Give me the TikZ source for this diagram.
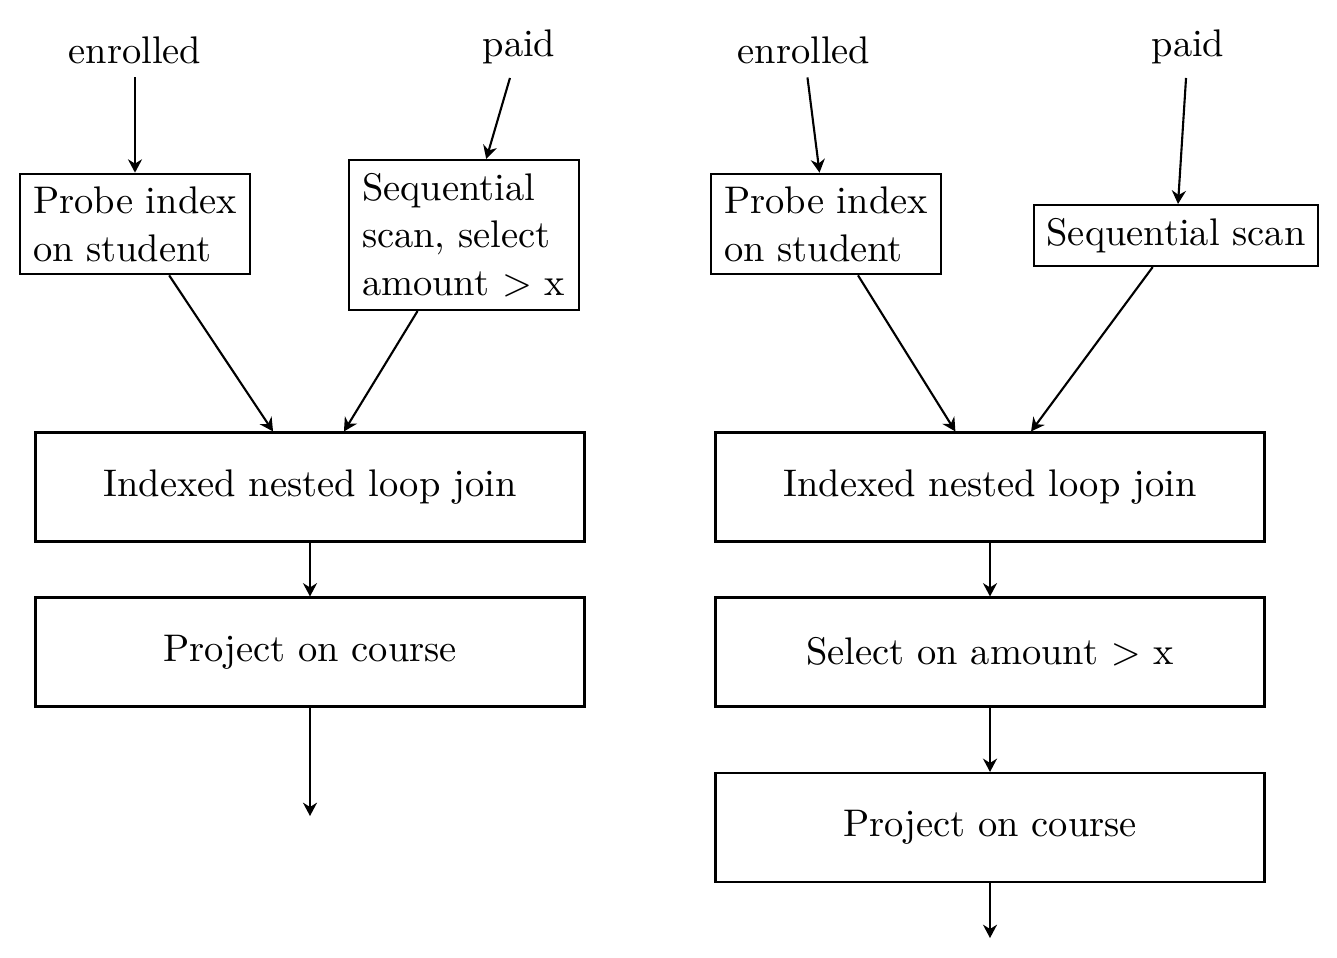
\documentclass[11pt,tikz,border=0pt]{standalone}
\usetikzlibrary{arrows.meta}

\begin{document}
\begin{tikzpicture}[semithick, >={Stealth[length=3.8pt,width=4pt]}, box/.style={draw, align=left, text width=2.04cm}, wide/.style={draw, minimum width=5.49cm, minimum height=1.09cm}]
            \useasboundingbox (0,0) rectangle (13.37,-9.57);

            % left plan
            \node (E1) at (1.35,-0.50) {enrolled};
            \node (P1) at (5.19,-0.47) {paid};
            \node[box, minimum height=0.98cm] (A1) at (1.35,-2.24) {Probe index\\ on student};
            \node[box, minimum height=1.48cm] (B1) at (4.64,-2.35) {Sequential\\ scan, select\\ amount $>$ x};
            \node[wide] (J1) at (3.10,-4.87) {Indexed nested loop join};
            \node[wide] (R1) at (3.10,-6.52) {Project on course};
            \coordinate (O1) at (3.10,-8.16);

            \draw[->] (E1) -- (A1);
            \draw[->] (P1) -- (B1);
            \draw[->] (A1) -- (J1);
            \draw[->] (B1) -- (J1);
            \draw[->] (J1) -- (R1);
            \draw[->] (R1) -- (O1);

            % right plan
            \node (E2) at (8.04,-0.50) {enrolled};
            \node (P2) at (11.88,-0.47) {paid};
            \node[box, minimum height=0.98cm] (A2) at (8.26,-2.24) {Probe index\\ on student};
            \node[draw, minimum width=2.84cm, minimum height=0.61cm] (B2) at (11.76,-2.355) {Sequential scan};
            \node[wide] (J2) at (9.90,-4.87) {Indexed nested loop join};
            \node[wide] (S2) at (9.90,-6.52) {Select on amount $>$ x};
            \node[wide] (R2) at (9.90,-8.275) {Project on course};
            \coordinate (O2) at (9.90,-9.38);

            \draw[->] (E2) -- (A2);
            \draw[->] (P2) -- (B2);
            \draw[->] (A2) -- (J2);
            \draw[->] (B2) -- (J2);
            \draw[->] (J2) -- (S2);
            \draw[->] (S2) -- (R2);
            \draw[->] (R2) -- (O2);
        \end{tikzpicture}
\end{document}
